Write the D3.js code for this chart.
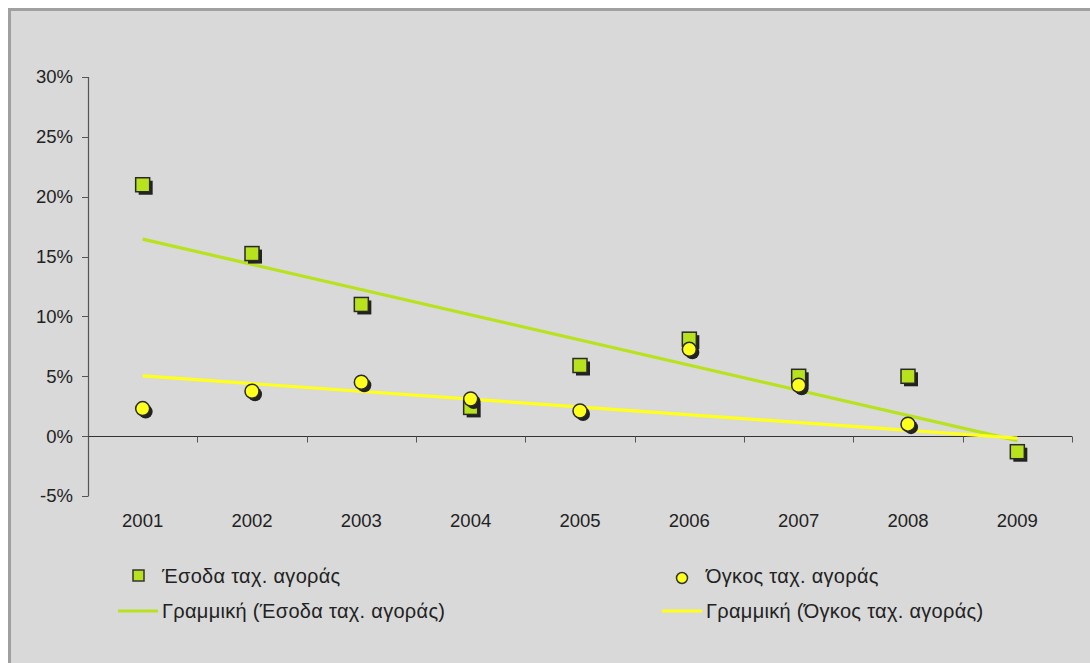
<!DOCTYPE html>
<html><head><meta charset="utf-8">
<script src="https://cdn.jsdelivr.net/npm/d3@7"></script>
<style>html,body{margin:0;padding:0;background:#fff;}svg{display:block;font-family:"Liberation Sans",Arial,Helvetica,sans-serif;}</style>
</head><body>
<script>
const years = ["2001","2002","2003","2004","2005","2006","2007","2008","2009"];
const revenue = [21.0, 15.25, 11.0, 2.4, 5.9, 8.1, 5.0, 5.0, -1.3];
const volume = [2.3, 3.75, 4.5, 3.1, 2.1, 7.25, 4.25, 1.0, -6.3];
const yTicks = [-5, 0, 5, 10, 15, 20, 25, 30];
const seriesNames = ["Έσοδα ταχ. αγοράς", "Όγκος ταχ. αγοράς"];
const trendNames = ["Γραμμική (Έσοδα ταχ. αγοράς)", "Γραμμική (Όγκος ταχ. αγοράς)"];

const W = 1090, H = 663;
const svg = d3.select("body").append("svg").attr("width", W).attr("height", H);
svg.append("rect").attr("x", 9.5).attr("y", 9.5).attr("width", W).attr("height", H)
  .attr("fill", "#d9d9d9").attr("stroke", "#a0a0a0").attr("stroke-width", 3);

const x = d3.scaleBand().domain(years).range([88, 1072]);
const y = d3.scaleLinear().domain([-5, 30]).range([496, 77]);
const cx = d => x(d) + x.bandwidth() / 2;
const txtColor = "#222";
const tickFont = 18.5, legFont = 20;

// y axis
const g = svg.append("g");
g.append("line").attr("x1", 88.5).attr("x2", 88.5).attr("y1", y(30)).attr("y2", y(-5)).attr("stroke", "#555").attr("stroke-width", 1.2);
yTicks.forEach(t => {
  g.append("line").attr("x1", 82).attr("x2", 88.5).attr("y1", Math.round(y(t)) + 0.5).attr("y2", Math.round(y(t)) + 0.5).attr("stroke", "#555");
  g.append("text").attr("x", 73).attr("y", y(t)).attr("dy", "0.35em").attr("text-anchor", "end")
    .attr("font-size", tickFont).attr("fill", txtColor).text(t + "%");
});
// x axis at 0
const y0 = Math.round(y(0)) + 0.5;
g.append("line").attr("x1", 88).attr("x2", 1072).attr("y1", y0).attr("y2", y0).attr("stroke", "#333").attr("stroke-width", 1.2);
const bounds = years.map(d => x(d)).concat([1072]);
bounds.forEach(b => {
  const bx = Math.round(b) + 0.5;
  g.append("line").attr("x1", bx).attr("x2", bx).attr("y1", y0).attr("y2", y0 + 6).attr("stroke", "#555");
});
years.forEach(d => {
  g.append("text").attr("x", cx(d)).attr("y", 521).attr("dy", "0.35em").attr("text-anchor", "middle")
    .attr("font-size", tickFont).attr("fill", txtColor).text(d);
});

// trend lines (least squares)
function trend(vals) {
  const n = vals.length, xs = vals.map((_, i) => i + 1);
  const mx = d3.mean(xs), my = d3.mean(vals);
  const sxy = d3.sum(xs, (xi, i) => (xi - mx) * (vals[i] - my));
  const sxx = d3.sum(xs, xi => (xi - mx) ** 2);
  const b = sxy / sxx, a = my - b * mx;
  return [a + b * 1, a + b * n];
}
const green = "#b8e21e", yellow = "#ffff1e";
const plot = svg.append("g");
[[revenue, green], [volume, yellow]].forEach(([vals, col]) => {
  const t = trend(vals);
  plot.append("line").attr("x1", cx(years[0])).attr("x2", cx(years[years.length - 1]))
    .attr("y1", y(t[0])).attr("y2", y(t[1])).attr("stroke", col).attr("stroke-width", 3.2);
});

// markers
const inDom = v => v >= -5 && v <= 30;
const sq = 14;
years.forEach((d, i) => {
  const v = revenue[i]; if (!inDom(v)) return;
  plot.append("rect").attr("x", cx(d) - sq / 2 + 3).attr("y", y(v) - sq / 2 + 3).attr("width", sq).attr("height", sq).attr("fill", "#222");
  plot.append("rect").attr("x", cx(d) - sq / 2).attr("y", y(v) - sq / 2).attr("width", sq).attr("height", sq)
    .attr("fill", green).attr("stroke", "#2a2a2a").attr("stroke-width", 1.5);
});
years.forEach((d, i) => {
  const v = volume[i]; if (!inDom(v)) return;
  plot.append("circle").attr("cx", cx(d) + 3).attr("cy", y(v) + 3).attr("r", 7).attr("fill", "#222");
  plot.append("circle").attr("cx", cx(d)).attr("cy", y(v)).attr("r", 7)
    .attr("fill", yellow).attr("stroke", "#2a2a2a").attr("stroke-width", 1.5);
});

// legend
const lg = svg.append("g");
const addText = (tx, ty, s) => lg.append("text").attr("x", tx).attr("y", ty).attr("dy", "0.35em")
  .attr("font-size", legFont).attr("letter-spacing", 0.3).attr("fill", txtColor).text(s);
lg.append("rect").attr("x", 133).attr("y", 570).attr("width", 11).attr("height", 11).attr("fill", green).attr("stroke", "#333").attr("stroke-width", 1.5);
addText(162, 576, seriesNames[0]);
lg.append("line").attr("x1", 118).attr("x2", 158).attr("y1", 611).attr("y2", 611).attr("stroke", green).attr("stroke-width", 3);
addText(162, 611, trendNames[0]);

lg.append("circle").attr("cx", 682).attr("cy", 578).attr("r", 5.5).attr("fill", yellow).attr("stroke", "#333").attr("stroke-width", 1.5);
addText(706, 576, seriesNames[1]);
lg.append("line").attr("x1", 662).attr("x2", 702).attr("y1", 611).attr("y2", 611).attr("stroke", yellow).attr("stroke-width", 3);
addText(706, 611, trendNames[1]);
</script>
</body></html>
